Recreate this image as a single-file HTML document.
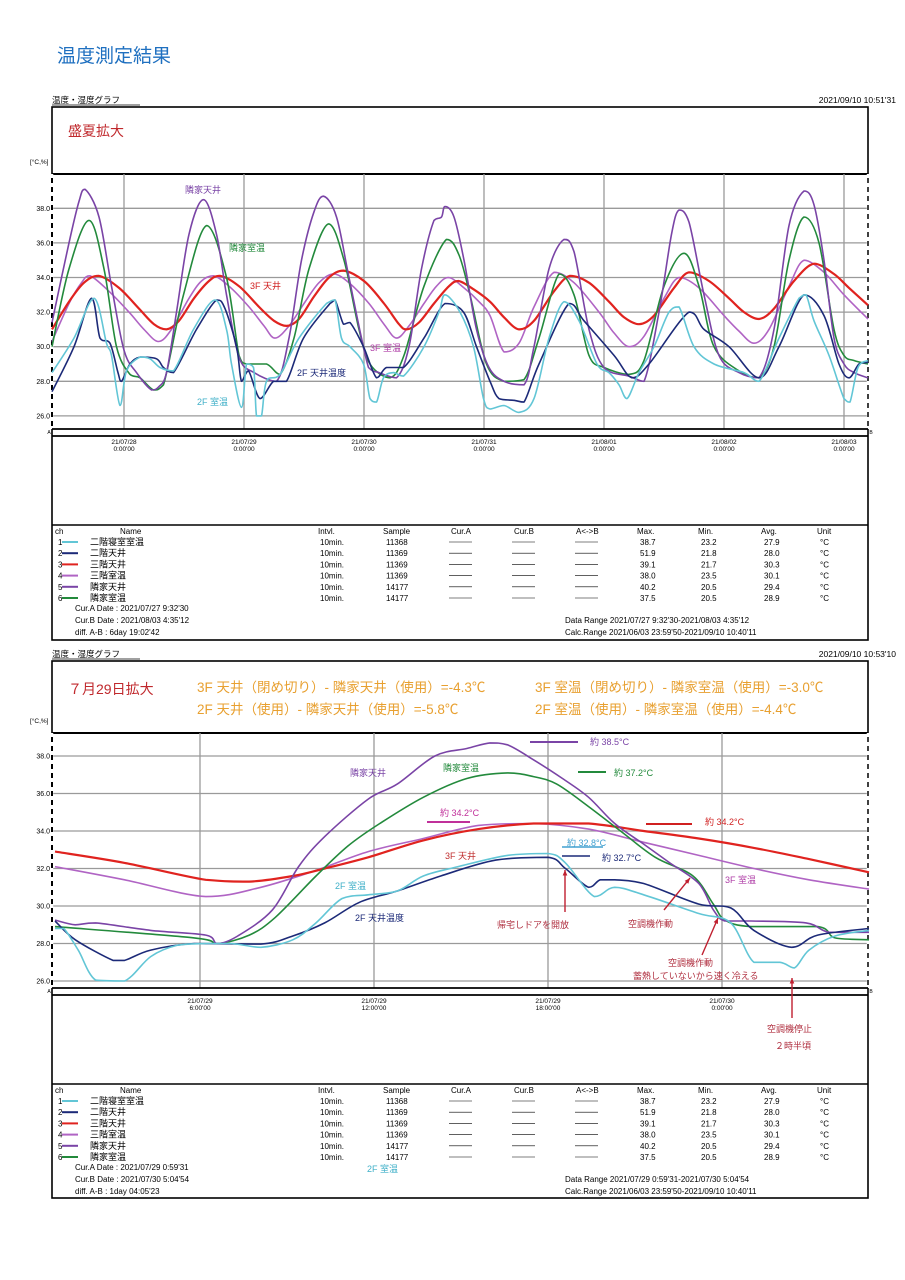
<!DOCTYPE html>
<html><head><meta charset="utf-8">
<style>
html,body{margin:0;padding:0;background:#fff;}
svg{display:block;font-family:"Liberation Sans","Noto Sans CJK JP",sans-serif;}
</style></head>
<body>
<svg id="page" width="905" height="1280" viewBox="0 0 905 1280" xmlns="http://www.w3.org/2000/svg">
<text x="57" y="62" font-size="19" fill="#1f70c0">温度測定結果</text>
</svg>
<script>
// ===== data: chart 1 (hours from 2021/07/28 0:00, °C) =====
const c1YTicks = [26, 28, 30, 32, 34, 36, 38];
const c1YTickLabels = ["26.0","28.0","30.0","32.0","34.0","36.0","38.0"];
const c1XTicks = [0, 24, 48, 72, 96, 120, 144];
const c1XTickDates = ["21/07/28","21/07/29","21/07/30","21/07/31","21/08/01","21/08/02","21/08/03"];
const c1XTickTimes = ["0:00'00","0:00'00","0:00'00","0:00'00","0:00'00","0:00'00","0:00'00"];
const c1Room2F = [[-14.4,28.5],[-10,30.5],[-6,32.8],[-3.5,30.2],[-2.5,29.5],[-0.8,26.6],[0.5,28.6],[3.2,29.4],[5.2,29.3],[7.2,28.8],[9.9,28.6],[13.9,31],[18.2,32.7],[20.5,31],[21.5,29],[23.5,26.5],[24.5,29],[25.9,28.8],[26.5,26],[27.5,26],[28.5,28],[31.2,28.4],[35,30.5],[40.5,32.5],[42.2,32.7],[43.5,30.5],[45.2,30],[47.9,29],[49.2,27],[50.5,26.8],[51.9,28.2],[53.9,28.5],[55.9,28.3],[60,30],[63,32],[64.2,33],[67.2,32],[69.9,30],[71.9,27],[73.2,26.4],[76,26.6],[79,26.2],[82,27],[85,30.5],[88,32.6],[91,31.5],[94.6,29],[97,28.5],[99,27.8],[100.6,27],[103,28.5],[106,30],[109,32],[111,32.3],[114,30],[118,29],[124,28.5],[127,28],[131,30.5],[135,32.8],[136.4,33],[138,31.5],[141,29.5],[144,27],[145.2,26.8],[146.8,28.8],[148.8,29.2]];
const c1Ceil2F = [[-14.4,27.4],[-10,30],[-6.5,32.8],[-4.8,30.5],[-2.8,30.2],[-1.2,28.5],[-0.5,28],[1.2,29],[3.2,29.4],[6.5,29.3],[7.9,28.8],[9.9,28.5],[14.5,31],[18.5,32.7],[20.2,32.2],[22.5,30],[23.5,28],[24.9,28.6],[27.2,27],[29.9,28],[32.5,28],[35.9,30.5],[41.2,32.5],[42.2,32.7],[43.9,31.3],[45.2,31.4],[47.9,30],[50.5,28.2],[52.5,28.8],[55.9,28.8],[60,30.5],[64.2,32.5],[67.9,32],[70.5,30],[73.2,28],[75,27],[78,26.9],[80,26.8],[83,29],[89,32.5],[92,31.5],[98,29.5],[101.6,28.2],[105,29],[113,32],[116,31],[121,30],[127,28.2],[131,30],[136,33],[140,31.8],[143,29],[145,28.2],[147,29],[148.8,29.1]];
const c1Ceil3F = [[-14.4,31],[-11,32.6],[-8,33.7],[-5.1,34.1],[-1,33.4],[3,32.2],[6,31.3],[8.5,31],[11,31.5],[14,32.8],[17,33.8],[19.2,34.1],[23,33.5],[27,32.3],[30,31.5],[32.5,31.2],[35,31.6],[38,32.9],[41,34],[43.9,34.4],[48,33.8],[52,32.5],[55,31.3],[56.5,31],[59,31.4],[62,32.5],[65,33.5],[66.9,33.8],[70,33.3],[73.2,32.6],[76,31.7],[79,31],[82,31.5],[86,33.2],[89.2,34.1],[93,33.7],[97,32.6],[100,31.7],[103,31.3],[106,31.8],[110,33.4],[113,34.3],[117,33.8],[121,32.8],[124,32],[127,31.6],[130,32.2],[134,33.8],[138,34.8],[142,34.2],[145,33.4],[148.8,32.4]];
const c1Room3F = [[-14.4,30.3],[-11,32.5],[-8.5,33.7],[-6.8,34.1],[-3,33.2],[1,32],[4,31],[6.9,30.3],[9.5,31],[13,32.8],[15.5,33.8],[17.9,34.1],[21,33.5],[25,32.3],[28,31.2],[30.2,30.5],[33,31.2],[36,32.5],[39,33.7],[41.9,34.2],[45,33.7],[49,32.5],[52,31.3],[54.5,30.5],[57,31.2],[60,32.5],[62.5,33.5],[64.9,34],[68,33.4],[71,32.6],[73.2,31.8],[76,29.7],[79,30.2],[82,32.3],[86,34.3],[90,33.7],[95,32],[98,30.8],[101,30],[104,30.6],[108,32.8],[111,34],[115,33.4],[120,31.8],[123,30.9],[126,30.2],[129,31],[133,33.5],[136,35],[140,34.3],[144,33],[148.8,31.6]];
const c1CeilNb = [[-14.4,31.4],[-11,36],[-9,38.4],[-7.8,39.1],[-5,37.5],[-2.5,33.5],[0,29.8],[2.5,28.5],[5.5,27.5],[7,27.7],[8.5,28.5],[10.5,32],[13,36.5],[15.9,38.5],[18.5,36.5],[20.5,33],[23,29.4],[26,28.5],[30.5,28],[33,30.5],[35.5,35],[38,37.8],[39.9,38.7],[42.5,37.5],[45,34],[48.9,28.8],[51,28.5],[54.5,28.2],[57,30],[59.5,34.5],[62,37.3],[63.5,37.5],[64.2,38.1],[66,37.5],[68,35],[70.5,31],[73,28.8],[76,28],[80,27.8],[82,30],[85,34.5],[88,36.2],[90,35.5],[93,31],[96,28.8],[101,28.3],[104,28],[107,32],[109.5,36.5],[111,37.9],[113,37.2],[116,33],[119,29.5],[123,28.5],[127,28.2],[130,31],[133,37],[136,39],[138,38.2],[140,35],[142,30.5],[144,29],[146,28.5],[148.8,28.2]];
const c1RoomNb = [[-14.4,30],[-11,34.5],[-7,37.3],[-4,34.5],[-1.5,30],[1.2,28.4],[3.2,28.2],[5.9,27.5],[7.9,27.8],[11.9,33],[16.5,37],[20.5,34],[23,29.5],[24.5,29],[28.5,29],[31.2,28.4],[34,30.5],[37,34.5],[40.9,37.1],[44,35],[47,31],[49.2,29],[53.2,28.2],[56,29.5],[60,33.5],[64.5,36.2],[67,35.3],[69.2,33],[72.5,29],[76,28],[80,28.1],[83,30.5],[87,34.2],[90,33],[93,29.5],[96,28.8],[101,28.4],[104,29.2],[108,33.5],[112,35.4],[115,33.5],[118,30],[123,28.6],[127,28.2],[130,30],[133,35],[136,37.5],[139,36],[142,31],[144,29.5],[146,29.2],[148.8,29]];

// ===== data: chart 2 (hours from 2021/07/29 0:00, °C) =====
const c2YTicks = [26, 28, 30, 32, 34, 36, 38];
const c2YTickLabels = ["26.0","28.0","30.0","32.0","34.0","36.0","38.0"];
const c2XTicks = [6, 12, 18, 24];
const c2XTickDates = ["21/07/29","21/07/29","21/07/29","21/07/30"];
const c2XTickTimes = ["6:00'00","12:00'00","18:00'00","0:00'00"];
const c2Room2F = [[1,28.8],[1.3,28.8],[1.8,27.65],[2.4,26.05],[3.4,26],[4.3,27.3],[5.2,27.9],[6.2,28],[7.1,28],[8.1,27.8],[9.2,28.2],[10,29.1],[10.9,30.4],[11.8,30.6],[12.8,30.8],[13.7,31.6],[14.9,32.1],[16.6,32.7],[18,32.8],[18.6,32.3],[19.6,30.5],[20.3,31],[21.3,30.6],[23.2,29.6],[24.3,29.1],[25.1,27],[26,27],[26.5,26.7],[27,27.65],[27.9,28.4],[29.07,28.7]];
const c2Ceil2F = [[1,29.2],[1.7,28.2],[3,27.1],[3.4,27.1],[4.3,27.65],[5.8,28],[8.1,27.97],[9.2,28.4],[10.3,29.1],[11.5,30.2],[12.8,30.8],[14.3,31.6],[16.2,32.45],[18,32.6],[18.6,32],[19.4,31],[19.8,31.4],[20.3,31.4],[21.3,31.2],[23.2,30.1],[24.3,29.9],[25.1,28.7],[26.4,27.8],[27.3,28.45],[29.07,28.8]];
const c2Ceil3F = [[1,32.9],[3.4,32.3],[6.2,31.4],[7.7,31.3],[9.2,31.6],[10.3,32],[11.8,32.6],[13.7,33.5],[15.6,34.1],[17.5,34.4],[19.4,34.4],[21.3,34],[23.2,33.6],[25.1,33.1],[27,32.5],[29.07,31.8]];
const c2Room3F = [[1,32.1],[3.4,31.4],[6.2,30.5],[8.1,31],[10,31.9],[11.8,32.9],[13.7,33.6],[15.6,34.3],[17.5,34.4],[19.4,34.1],[21.3,33.4],[23.2,32.7],[25.1,32],[27,31.4],[29.07,30.9]];
const c2CeilNb = [[1,29.25],[1.7,29],[2.4,29.1],[4.3,28.7],[6.2,28.45],[6.6,28],[7.3,28.4],[8.5,29.8],[9.4,32.1],[10.3,33.7],[11.8,35.7],[12.8,36.5],[14.1,38],[15.2,38.4],[16,38.7],[16.6,38.6],[17.5,37.8],[18.5,36.8],[19.4,35.8],[20.3,34.4],[21.3,33.3],[22.2,32.3],[23.2,31.2],[23.7,29.8],[24.1,29.2],[25,29.2],[26.9,29.1],[27.7,28.6],[29.07,28.6]];
const c2RoomNb = [[1,28.9],[5.8,28.3],[6.6,28],[7.7,28.45],[8.6,29.4],[10,31.6],[11.1,33.2],[12.2,34.4],[13.7,35.8],[15.2,36.8],[16.6,37.1],[17.5,36.9],[18.3,36.5],[19.4,35.3],[20.5,34],[21.7,32.6],[23,31.6],[23.7,30.1],[24.1,29.25],[25,28.9],[27.3,28.9],[27.9,28.3],[29.07,28.2]];

// ===== table data =====
const chNames = ["二階寝室室温","二階天井","三階天井","三階室温","隣家天井","隣家室温"];
const chSamples = ["11368","11369","11369","11369","14177","14177"];
const chMax = ["38.7","51.9","39.1","38.0","40.2","37.5"];
const chMin = ["23.2","21.8","21.7","23.5","20.5","20.5"];
const chAvg = ["27.9","28.0","30.3","30.1","29.4","28.9"];
const chColors = ["#62c6d6","#1c2a78","#e0231f","#b064c4","#7a44a6","#238a3c"];

const NS = "http://www.w3.org/2000/svg";
const svg = document.getElementById("page");
function mk(tag, attrs, parent, text){
  const e = document.createElementNS(NS, tag);
  for (const k in attrs) e.setAttribute(k, attrs[k]);
  if (text !== undefined) e.textContent = text;
  (parent || svg).appendChild(e);
  return e;
}
function txt(x, y, s, size, fill, name, anchor, parent){
  const t = mk("text", {x:x, y:y, "font-size":size, fill:fill||"#000", "text-anchor":anchor||"start"}, parent, s);
  
  
  return t;
}
function smoothPath(pts){
  let d = "M" + pts[0][0].toFixed(1) + "," + pts[0][1].toFixed(1);
  for (let i = 0; i < pts.length - 1; i++){
    const p0 = pts[Math.max(0,i-1)], p1 = pts[i], p2 = pts[i+1], p3 = pts[Math.min(pts.length-1,i+2)];
    const k = 1/6;
    let c1y = p1[1] + (p2[1]-p0[1])*k, c2y = p2[1] - (p3[1]-p1[1])*k;
    const lo = Math.min(p1[1],p2[1]), hi = Math.max(p1[1],p2[1]);
    c1y = Math.min(hi, Math.max(lo, c1y)); c2y = Math.min(hi, Math.max(lo, c2y));
    const c1x = p1[0] + (p2[0]-p0[0])*k, c2x = p2[0] - (p3[0]-p1[0])*k;
    d += " C" + c1x.toFixed(1) + "," + c1y.toFixed(1) + " " + c2x.toFixed(1) + "," + c2y.toFixed(1) + " " + p2[0].toFixed(1) + "," + p2[1].toFixed(1);
  }
  return d;
}

function drawChart(cfg){
  const g = mk("g", {});
  
  
  const L = 52, R = 868;
  const xS = h => cfg.x0 + (h - cfg.h0) * cfg.pxh;
  const yS = v => cfg.y38 + (38 - v) * cfg.pxd;
  txt(52, cfg.top - 4, "温度・湿度グラフ", 8.5, "#000", "graph-header", "start", g);
  mk("line", {x1:52, y1:cfg.top - 2, x2:140, y2:cfg.top - 2, stroke:"#000", "stroke-width":0.8}, g);
  txt(896, cfg.top - 4, cfg.stamp, 8.5, "#000", "timestamp", "end", g);
  const fr = mk("rect", {x:L, y:cfg.top, width:R-L, height:cfg.bottom-cfg.top, fill:"none", stroke:"#000", "stroke-width":1.6}, g);
  
  
  mk("rect", {x:L, y:cfg.pTop, width:R-L, height:cfg.pBot-cfg.pTop, fill:"#fff", stroke:"none"}, g);
  mk("line", {x1:L, y1:cfg.pTop, x2:R, y2:cfg.pTop, stroke:"#000", "stroke-width":2}, g);
  txt(30, cfg.pTop - 10, "[°C,%]", 6.5, "#000", "y-axis-unit", "start", g);
  cfg.yTicks.forEach((v, i) => {
    const y = yS(v);
    const gl = mk("line", {x1:L, y1:y, x2:R, y2:y, stroke:"#9a9a9a", "stroke-width":1.3}, g);
    
    
    txt(50, y + 2.5, cfg.yLabels[i], 7, "#000", "y-tick-label", "end", g);
  });
  cfg.xTicks.forEach((h, i) => {
    const x = xS(h);
    const gl = mk("line", {x1:x, y1:cfg.pTop, x2:x, y2:cfg.pBot, stroke:"#9a9a9a", "stroke-width":1.3}, g);
    
    
    txt(x, cfg.pBot + 15, cfg.xDates[i], 6.5, "#000", "x-tick-date", "middle", g);
    txt(x, cfg.pBot + 22, cfg.xTimes[i], 6.5, "#000", "x-tick-time", "middle", g);
  });
  mk("line", {x1:L, y1:cfg.pTop, x2:L, y2:cfg.pBot, stroke:"#fff", "stroke-width":2.5}, g);
  mk("line", {x1:L, y1:cfg.pTop+4, x2:L, y2:cfg.pBot, stroke:"#000", "stroke-width":2, "stroke-dasharray":"5,4"}, g);
  mk("line", {x1:R, y1:cfg.pTop, x2:R, y2:cfg.pBot, stroke:"#fff", "stroke-width":2.5}, g);
  mk("line", {x1:R, y1:cfg.pTop+4, x2:R, y2:cfg.pBot, stroke:"#000", "stroke-width":1.5, "stroke-dasharray":"5,4"}, g);
  cfg.series.forEach((s, i) => {
    const pts = s.map(p => [xS(p[0]), yS(p[1])]);
    const pth = mk("path", {d:smoothPath(pts), fill:"none", stroke:chColors[cfg.order[i]], "stroke-width":cfg.order[i]===2?2.2:1.6, "stroke-linejoin":"round"}, g);
    
    
  });
  mk("line", {x1:L, y1:cfg.pBot, x2:R, y2:cfg.pBot, stroke:"#000", "stroke-width":1.8}, g);
  mk("line", {x1:L, y1:cfg.pBot+7, x2:R, y2:cfg.pBot+7, stroke:"#000", "stroke-width":1.8}, g);
  txt(L-3, cfg.pBot+5, "A", 5, "#000", "cursor-a-marker", "middle", g);
  txt(R+3, cfg.pBot+5, "B", 5, "#000", "cursor-b-marker", "middle", g);
  const tt = cfg.tTop;
  mk("line", {x1:L, y1:tt, x2:R, y2:tt, stroke:"#000", "stroke-width":1.6}, g);
  const hdr = [["ch",55],["Name",120],["Intvl.",318],["Sample",383],["Cur.A",451],["Cur.B",514],["A<->B",576],["Max.",637],["Min.",698],["Avg.",761],["Unit",817]];
  hdr.forEach(h => txt(h[1], tt + 9, h[0], 8, "#000", "table-header-" + h[0].toLowerCase().replace(/[^a-z]/g,''), "start", g));
  for (let i = 0; i < 6; i++){
    const y = tt + 20 + i * 11.2;
    txt(58, y, String(i+1), 8, "#000", "channel-number", "start", g);
    mk("line", {x1:62, y1:y-3, x2:78, y2:y-3, stroke:chColors[i], "stroke-width":2}, g);
    txt(90, y, chNames[i], 9, "#000", "channel-name", "start", g);
    txt(320, y, "10min.", 8, "#000", "channel-interval", "start", g);
    txt(386, y, chSamples[i], 8, "#000", "channel-samples", "start", g);
    [0,1,2].forEach(k => mk("line", {x1:449 + k*63, y1:y-3, x2:472 + k*63, y2:y-3, stroke:"#000", "stroke-width":0.6}, g));
    txt(640, y, chMax[i], 8, "#000", "channel-max", "start", g);
    txt(701, y, chMin[i], 8, "#000", "channel-min", "start", g);
    txt(764, y, chAvg[i], 8, "#000", "channel-avg", "start", g);
    txt(820, y, "°C", 8, "#000", "channel-unit", "start", g);
  }
  txt(75, tt + 86, "Cur.A Date : " + cfg.curA, 8, "#000", "cursor-a-date", "start", g);
  txt(75, tt + 98, "Cur.B Date : " + cfg.curB, 8, "#000", "cursor-b-date", "start", g);
  txt(75, tt + 110, "diff. A-B  : " + cfg.diff, 8, "#000", "cursor-diff", "start", g);
  txt(565, tt + 98, "Data Range " + cfg.dataRange, 8, "#000", "data-range", "start", g);
  txt(565, tt + 110, "Calc.Range 2021/06/03 23:59'50-2021/09/10 10:40'11", 8, "#000", "calc-range", "start", g);
  return {g:g, xS:xS, yS:yS};
}

const c1 = drawChart({name:"chart-midsummer", top:107, bottom:640, pTop:174, pBot:429, tTop:525,
  x0:124, h0:0, pxh:5, y38:208.3, pxd:17.3, stamp:"2021/09/10 10:51'31",
  yTicks:c1YTicks, yLabels:c1YTickLabels, xTicks:c1XTicks, xDates:c1XTickDates, xTimes:c1XTickTimes,
  series:[c1Room3F, c1Ceil3F, c1RoomNb, c1CeilNb, c1Ceil2F, c1Room2F], order:[3,2,5,4,1,0],
  seriesNames:["series-3f-room","series-3f-ceiling","series-neighbor-room","series-neighbor-ceiling","series-2f-ceiling","series-2f-room"],
  curA:"2021/07/27  9:32'30", curB:"2021/08/03  4:35'12", diff:"6day 19:02'42",
  dataRange:"2021/07/27  9:32'30-2021/08/03  4:35'12"});
txt(68, 136, "盛夏拡大", 14, "#c0282c", "chart1-title");
txt(185, 193, "隣家天井", 9, "#7a44a6", "label-neighbor-ceiling");
txt(229, 251, "隣家室温", 9, "#238a3c", "label-neighbor-room");
txt(250, 289, "3F 天井", 9, "#d02020", "label-3f-ceiling");
txt(370, 351, "3F 室温", 9, "#b040a8", "label-3f-room");
txt(297, 376, "2F 天井温度", 9, "#1c2a78", "label-2f-ceiling");
txt(197, 405, "2F 室温", 9, "#40b0c8", "label-2f-room");

const c2 = drawChart({name:"chart-jul29", top:661, bottom:1198, pTop:733, pBot:988, tTop:1084,
  x0:200, h0:6, pxh:29, y38:756, pxd:18.75, stamp:"2021/09/10 10:53'10",
  yTicks:c2YTicks, yLabels:c2YTickLabels, xTicks:c2XTicks, xDates:c2XTickDates, xTimes:c2XTickTimes,
  series:[c2Room3F, c2Ceil3F, c2RoomNb, c2CeilNb, c2Ceil2F, c2Room2F], order:[3,2,5,4,1,0],
  seriesNames:["series-3f-room","series-3f-ceiling","series-neighbor-room","series-neighbor-ceiling","series-2f-ceiling","series-2f-room"],
  curA:"2021/07/29  0:59'31", curB:"2021/07/30  5:04'54", diff:"1day 04:05'23",
  dataRange:"2021/07/29  0:59'31-2021/07/30  5:04'54"});
txt(68, 694, "７月29日拡大", 14, "#c0282c", "chart2-title");
const OR = "#e8a030";
txt(197, 692, "3F 天井（閉め切り）- 隣家天井（使用）=-4.3℃", 13.5, OR, "diff-3f-ceiling");
txt(535, 692, "3F 室温（閉め切り）- 隣家室温（使用）=-3.0℃", 13.5, OR, "diff-3f-room");
txt(197, 714, "2F 天井（使用）- 隣家天井（使用）=-5.8℃", 13.5, OR, "diff-2f-ceiling");
txt(535, 714, "2F 室温（使用）- 隣家室温（使用）=-4.4℃", 13.5, OR, "diff-2f-room");
txt(367, 1172, "2F 室温", 9, "#40b0c8", "table-note-2f-room");

function seg(x1,y1,x2,y2,c,w,name){
  const l = mk("line", {x1:x1,y1:y1,x2:x2,y2:y2,stroke:c,"stroke-width":w});
  
  
}
seg(530,742,578,742,"#7a44a6",2,"marker-neighbor-ceiling-max"); txt(590,745,"約 38.5°C",9,"#7a44a6","note-neighbor-ceiling-max");
seg(578,772,606,772,"#238a3c",2,"marker-neighbor-room-max"); txt(614,776,"約 37.2°C",9,"#238a3c","note-neighbor-room-max");
seg(427,822,470,822,"#c0309a",2,"marker-3f-room-max"); txt(440,816,"約 34.2°C",9,"#c0309a","note-3f-room-max");
seg(646,824,692,824,"#d02020",2,"marker-3f-ceiling-max"); txt(705,825,"約 34.2°C",9,"#d02020","note-3f-ceiling-max");
seg(562,847,603,847,"#40a0d0",1.6,"marker-2f-room-max"); txt(567,846,"約 32.8°C",9,"#40a0d0","note-2f-room-max");
seg(562,856,590,856,"#1c2a78",1.6,"marker-2f-ceiling-max"); txt(602,861,"約 32.7°C",9,"#1c2a78","note-2f-ceiling-max");
txt(350,776,"隣家天井",9,"#7a44a6","label2-neighbor-ceiling");
txt(443,771,"隣家室温",9,"#238a3c","label2-neighbor-room");
txt(445,859,"3F 天井",9,"#c03030","label2-3f-ceiling");
txt(725,883,"3F 室温",9,"#b040a8","label2-3f-room");
txt(335,889,"2F 室温",9,"#40b0c8","label2-2f-room");
txt(355,921,"2F 天井温度",9,"#1c2a78","label2-2f-ceiling");
const AN = "#b03040";
function arrow(x1,y1,x2,y2,name){
  seg(x1,y1,x2,y2,"#c02030",1.4,name);
  const a = Math.atan2(y2-y1,x2-x1), s=6;
  const p = [[x2,y2],[x2-s*Math.cos(a-0.4),y2-s*Math.sin(a-0.4)],[x2-s*Math.cos(a+0.4),y2-s*Math.sin(a+0.4)]];
  const t = mk("polygon",{points:p.map(q=>q.join(",")).join(" "),fill:"#c02030"});
  
  
}
arrow(565,912,565,870,"arrow-door-open"); txt(497,928,"帰宅しドアを開放",9,AN,"note-door-open");
arrow(664,910,690,878,"arrow-ac-on-3f"); txt(628,927,"空調機作動",9,AN,"note-ac-on-3f");
arrow(702,955,718,918,"arrow-ac-on-2f"); txt(668,966,"空調機作動",9,AN,"note-ac-on-2f");
txt(633,979,"蓄熱していないから速く冷える",9,AN,"note-fast-cooling");
arrow(792,1018,792,978,"arrow-ac-off"); txt(767,1032,"空調機停止",9,AN,"note-ac-off");
txt(775,1049,"２時半頃",9,AN,"note-ac-off-time");
</script>
</body></html>
